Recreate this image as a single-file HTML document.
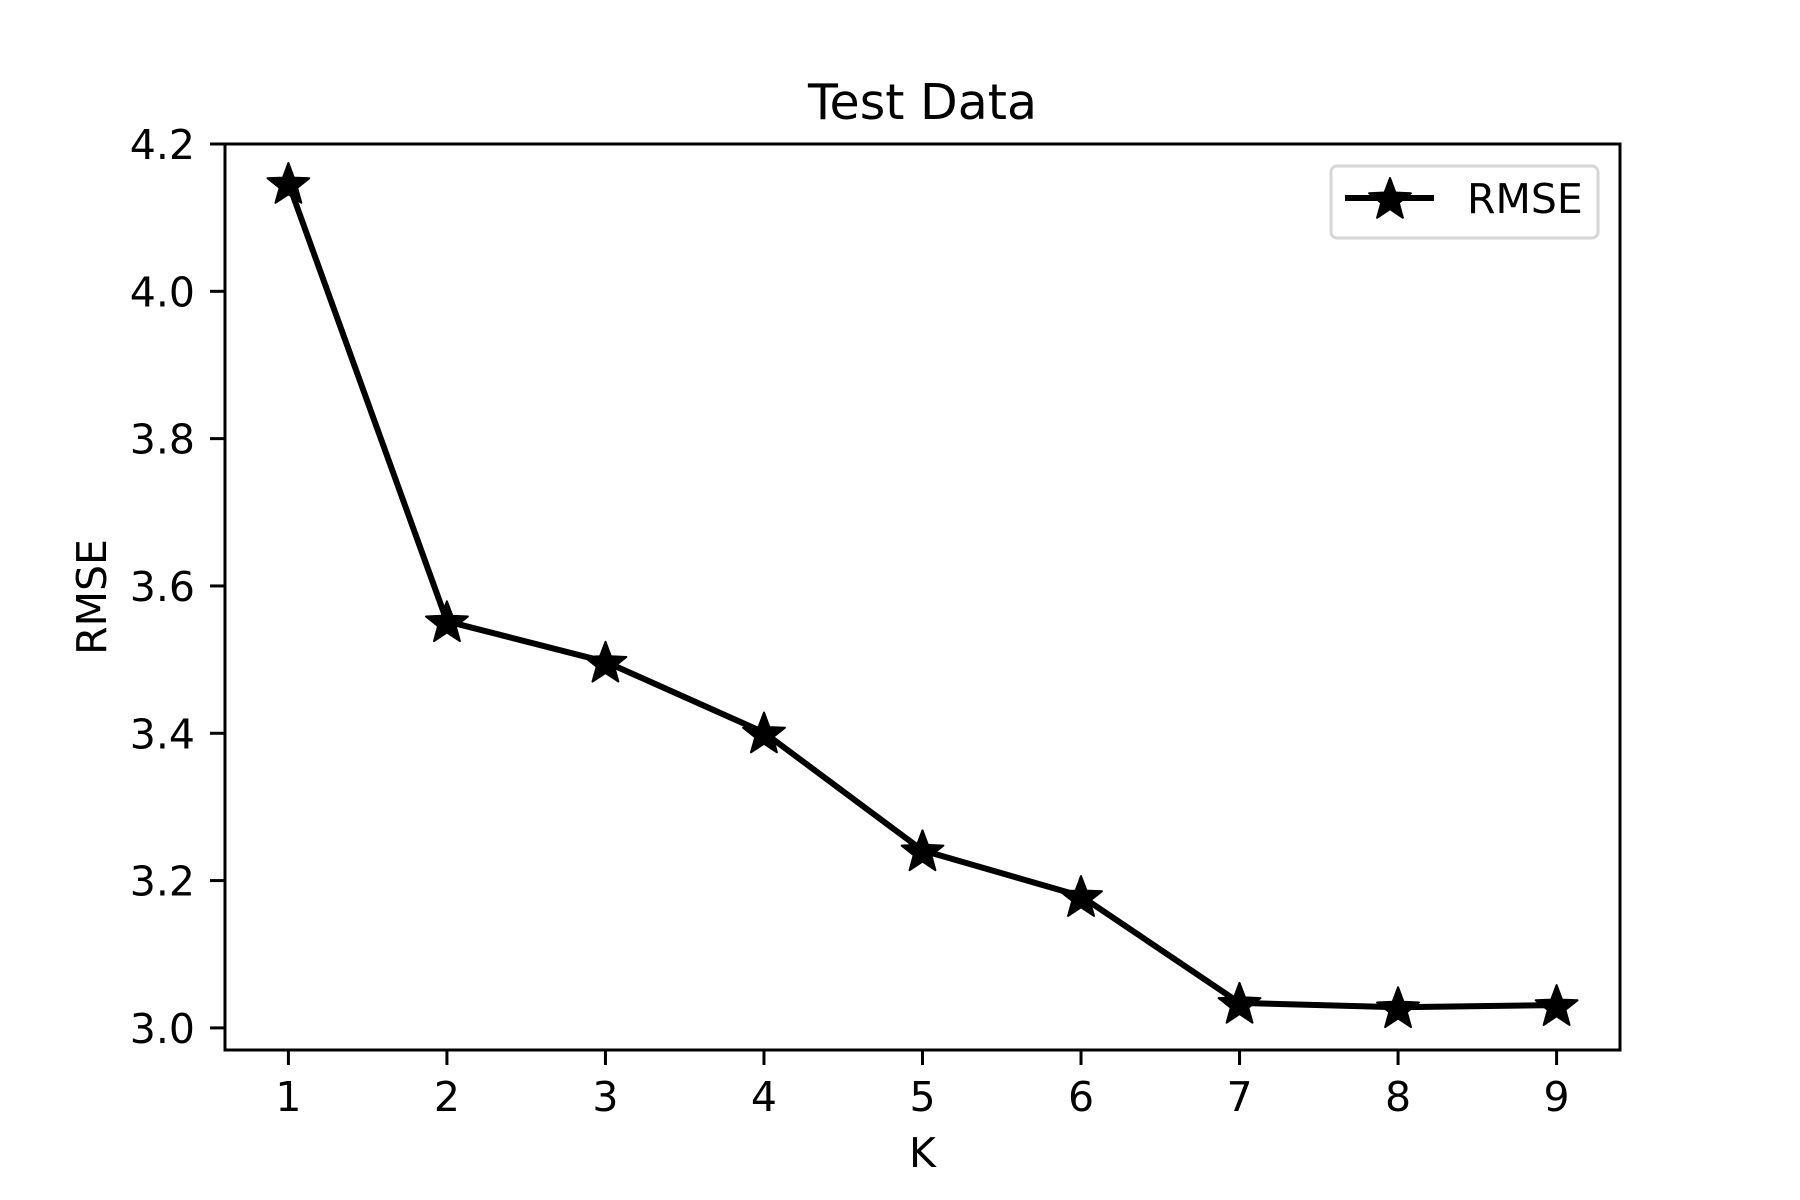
<!DOCTYPE html>
<html><head><meta charset="utf-8"><style>html,body{margin:0;padding:0;background:#fff}svg{display:block}text{font-family:"DejaVu Sans","Liberation Sans",sans-serif;fill:#000}</style></head>
<body>
<svg id="chart" width="1800" height="1200" viewBox="0 0 1800 1200" xmlns="http://www.w3.org/2000/svg">
<rect width="1800" height="1200" fill="#fff"/>
<g id="plot"></g>
</svg>
<script>
const categories = [1,2,3,4,5,6,7,8,9];
const rmseValues = [4.147, 3.552, 3.497, 3.401, 3.241, 3.179, 3.034, 3.028, 3.031];
const yTicks = [3.0, 3.2, 3.4, 3.6, 3.8, 4.0, 4.2];
const yTickLabels = ["3.0","3.2","3.4","3.6","3.8","4.0","4.2"];
const xTickLabels = ["1","2","3","4","5","6","7","8","9"];

const L=225,R=1620,T=144,B=1050;
const xMin=0.6,xMax=9.4,yMin=2.97,yMax=4.2;
const xs=v=>L+(v-xMin)/(xMax-xMin)*(R-L);
const ys=v=>B-(v-yMin)/(yMax-yMin)*(B-T);
const NS="http://www.w3.org/2000/svg";
const g=document.getElementById('plot');
function mk(tag,attrs,parent){const e=document.createElementNS(NS,tag);for(const k in attrs)e.setAttribute(k,attrs[k]);(parent||g).appendChild(e);return e;}
function starPts(cx,cy,r){let p=[];for(let i=0;i<10;i++){const a=-Math.PI/2+i*Math.PI/5;const rr=i%2?r*0.42:r;p.push((cx+rr*Math.cos(a)).toFixed(1)+","+(cy+rr*Math.sin(a)).toFixed(1));}return p.join(" ");}

let t=mk('text',{x:(L+R)/2,y:119,'font-size':49,'text-anchor':'middle'});t.textContent='Test Data';



categories.forEach((c,i)=>{
  const x=xs(c);
  const tk=mk('line',{x1:x,x2:x,y1:B,y2:B+15,stroke:'#000','stroke-width':3});
  
  
  const lb=mk('text',{x:x,y:1111,'font-size':41,'text-anchor':'middle'});lb.textContent=xTickLabels[i];
  
  
});
yTicks.forEach((v,i)=>{
  const y=ys(v);
  const tk=mk('line',{x1:L-15,x2:L,y1:y,y2:y,stroke:'#000','stroke-width':3});
  
  
  const lb=mk('text',{x:195,y:y+15,'font-size':41,'text-anchor':'end'});lb.textContent=yTickLabels[i];
  
  
});
let xl=mk('text',{x:(L+R)/2,y:1167,'font-size':41,'text-anchor':'middle'});xl.textContent='K';


let yl=mk('text',{x:0,y:0,'font-size':41,'text-anchor':'middle',transform:`translate(106,${(T+B)/2}) rotate(-90)`});yl.textContent='RMSE';



const pts=categories.map((c,i)=>xs(c).toFixed(1)+","+ys(rmseValues[i]).toFixed(1)).join(" ");
const pl=mk('polyline',{points:pts,fill:'none',stroke:'#000','stroke-width':6,'stroke-linejoin':'round'});


categories.forEach((c,i)=>{
  const s=mk('polygon',{points:starPts(xs(c),ys(rmseValues[i])+2,22),fill:'#000',stroke:'#000','stroke-width':2,'stroke-linejoin':'round'});
  
  
});

const fr=mk('rect',{x:L,y:T,width:R-L,height:B-T,fill:'none',stroke:'#000','stroke-width':3});



const lg=mk('g',{});


mk('rect',{x:1331,y:166,width:267,height:72,rx:6,fill:'#fff',stroke:'#d6d6d6','stroke-width':3},lg);
mk('line',{x1:1345,x2:1434,y1:198,y2:198,stroke:'#000','stroke-width':6},lg);
mk('polygon',{points:starPts(1390,200,22),fill:'#000',stroke:'#000','stroke-width':2,'stroke-linejoin':'round'},lg);
const lt=mk('text',{x:1467,y:213,'font-size':41},lg);lt.textContent='RMSE';


</script>
</body></html>
